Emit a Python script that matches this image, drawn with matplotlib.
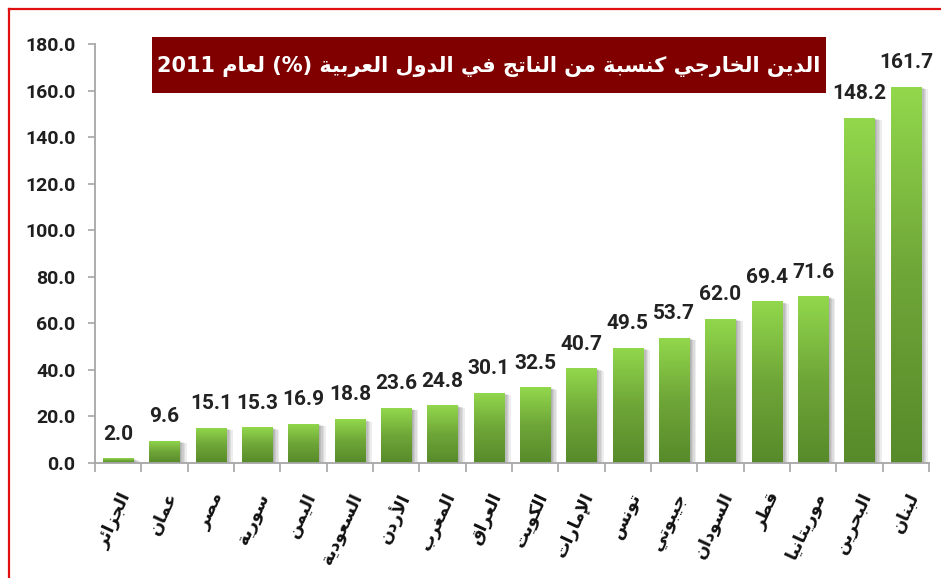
import matplotlib
matplotlib.use('Agg')
import matplotlib.pyplot as plt
import numpy as np
from matplotlib.patches import Rectangle
from matplotlib.lines import Line2D
import matplotlib.patheffects as pe
from matplotlib.colors import LinearSegmentedColormap

# ---------------- data ----------------
categories = ['الجزائر', 'عمان', 'مصر', 'سورية', 'اليمن', 'السعودية', 'الأردن',
              'المغرب', 'العراق', 'الكويت', 'الإمارات', 'تونس', 'جيبوتي',
              'السودان', 'قطر', 'موريتانيا', 'البحرين', 'لبنان']
values = [2.0, 9.6, 15.1, 15.3, 16.9, 18.8, 23.6, 24.8, 30.1, 32.5, 40.7,
          49.5, 53.7, 62.0, 69.4, 71.6, 148.2, 161.7]
y_ticks = [0, 20, 40, 60, 80, 100, 120, 140, 160, 180]
title_text = 'الدين الخارجي كنسبة من الناتج في الدول العربية (%) لعام 2011'

# ---------------- Arabic shaping (presentation forms) + RTL ----------------
_FORM_TABLE = [
    (0x0621, 0xFE80, 1), (0x0622, 0xFE81, 2), (0x0623, 0xFE83, 2), (0x0624, 0xFE85, 2),
    (0x0625, 0xFE87, 2), (0x0626, 0xFE89, 4), (0x0627, 0xFE8D, 2), (0x0628, 0xFE8F, 4),
    (0x0629, 0xFE93, 2), (0x062A, 0xFE95, 4), (0x062B, 0xFE99, 4), (0x062C, 0xFE9D, 4),
    (0x062D, 0xFEA1, 4), (0x062E, 0xFEA5, 4), (0x062F, 0xFEA9, 2), (0x0630, 0xFEAB, 2),
    (0x0631, 0xFEAD, 2), (0x0632, 0xFEAF, 2), (0x0633, 0xFEB1, 4), (0x0634, 0xFEB5, 4),
    (0x0635, 0xFEB9, 4), (0x0636, 0xFEBD, 4), (0x0637, 0xFEC1, 4), (0x0638, 0xFEC5, 4),
    (0x0639, 0xFEC9, 4), (0x063A, 0xFECD, 4), (0x0641, 0xFED1, 4), (0x0642, 0xFED5, 4),
    (0x0643, 0xFED9, 4), (0x0644, 0xFEDD, 4), (0x0645, 0xFEE1, 4), (0x0646, 0xFEE5, 4),
    (0x0647, 0xFEE9, 4), (0x0648, 0xFEED, 2), (0x0649, 0xFEEF, 2), (0x064A, 0xFEF1, 4),
]
FORMS = {chr(c): [chr(s + i) for i in range(n)] for c, s, n in _FORM_TABLE}
LAM = '\u0644'
LAM_ALEF = {'\u0622': (0xFEF5, 0xFEF6), '\u0623': (0xFEF7, 0xFEF8),
            '\u0625': (0xFEF9, 0xFEFA), '\u0627': (0xFEFB, 0xFEFC)}


def shape(word):
    tokens = []
    i = 0
    while i < len(word):
        c = word[i]
        if c == LAM and i + 1 < len(word) and word[i + 1] in LAM_ALEF:
            a, b = LAM_ALEF[word[i + 1]]
            tokens.append(([chr(a), chr(b)], False))
            i += 2
            continue
        if c in FORMS:
            f = FORMS[c]
            tokens.append((f, len(f) == 4))
        else:
            tokens.append((c, None))
        i += 1
    out = []
    for k, (f, dual) in enumerate(tokens):
        if dual is None:
            out.append(f)
            continue
        prev = k > 0 and tokens[k - 1][1] is True
        nxt = dual and k + 1 < len(tokens) and tokens[k + 1][1] is not None
        if prev and nxt:
            idx = 3
        elif prev:
            idx = 1
        elif nxt:
            idx = 2
        else:
            idx = 0
        if len(f) == 1:
            idx = 0
        out.append(f[idx])
    return ''.join(out)


def is_arabic(w):
    return any('\u0600' <= ch <= '\u06FF' for ch in w)


def rtl(text):
    words = text.split(' ')
    vis = [shape(w)[::-1] if is_arabic(w) else w for w in reversed(words)]
    return ' '.join(vis)


# ---------------- figure ----------------
W, H = 941, 578
fig = plt.figure(figsize=(W / 100, H / 100), dpi=100)
fig.patch.set_facecolor('white')

ax_left, ax_right, ax_top, ax_bottom = 95, 929, 44, 463
ax = fig.add_axes([ax_left / W, 1 - ax_bottom / H,
                   (ax_right - ax_left) / W, (ax_bottom - ax_top) / H])

x = np.arange(len(categories))
bw = 0.65
grid_col = '#A6A6A6'

bars = ax.bar(x, values, width=bw, color='#74B03C', zorder=3)

shadow_effects = [pe.SimplePatchShadow(offset=(d, -d * 0.35), shadow_rgbFace='black',
                                       alpha=0.07) for d in (1.0, 2.0, 3.0, 4.0, 5.0)]
cmap = LinearSegmentedColormap.from_list('grn', ['#578A2A', '#6FA638', '#92D84C'])
grad = np.linspace(0, 1, 256).reshape(-1, 1)
for rect, v in zip(bars, values):
    rect.set_path_effects(shadow_effects + [pe.Normal()])
    x0 = rect.get_x()
    im = ax.imshow(grad, extent=[x0, x0 + bw, 0, v], origin='lower', aspect='auto',
                   cmap=cmap, zorder=4, interpolation='bilinear')
    im.set_clip_path(rect)

# data labels
for xi, v in zip(x, values):
    ax.annotate(f'{v:.1f}', xy=(xi, v), xytext=(0, 13.5), textcoords='offset points',
                ha='center', va='baseline', fontsize=15, fontweight='bold',
                color='#222222', family=['Roboto', 'DejaVu Sans'],
                zorder=6)

ax.set_xlim(-0.5, len(categories) - 0.5)
ax.set_ylim(0, 180)
ax.set_yticks(y_ticks)
ax.set_yticklabels([f'{t:.1f}' for t in y_ticks])
for lab in ax.get_yticklabels():
    lab.set_family(['Roboto', 'DejaVu Sans'])
    lab.set_fontweight('bold')
    lab.set_fontsize(14)
    lab.set_color('#1E1E1E')
ax.tick_params(axis='y', direction='out', length=5, width=1.2, color=grid_col, pad=9)

ax.set_xticks(x)
ax.set_xticklabels([rtl(c) for c in categories])
ax.set_xticks(np.arange(-0.5, len(categories)), minor=True)
ax.tick_params(axis='x', which='major', length=0, pad=19)
ax.tick_params(axis='x', which='minor', direction='out', length=6.5, width=1.2, color=grid_col)
for lab in ax.get_xticklabels():
    lab.set_family(['DejaVu Sans'])
    lab.set_fontweight('bold')
    lab.set_fontsize(12.5)
    lab.set_color('#111111')
    lab.set_rotation(65)
    lab.set_ha('right')
    lab.set_va('top')
    lab.set_rotation_mode('anchor')

for s in ('top', 'right'):
    ax.spines[s].set_visible(False)
for s in ('left', 'bottom'):
    ax.spines[s].set_color(grid_col)
    ax.spines[s].set_linewidth(1.3)
    ax.spines[s].set_zorder(5)
ax.set_facecolor('none')

# title box
bx0, bx1, by0, by1 = 152, 826, 37, 93
fig.add_artist(Rectangle((bx0 / W, 1 - by1 / H), (bx1 - bx0) / W, (by1 - by0) / H,
                         transform=fig.transFigure, facecolor='#800000',
                         edgecolor='none', zorder=10))
t = fig.text((bx0 + bx1) / 2 / W, 1 - (by0 + by1) / 2 / H - 0.002, rtl(title_text),
             ha='center', va='center', color='white', fontsize=22, fontweight='bold',
             family=['DejaVu Sans'], zorder=11)
fig.canvas.draw()
wpx = t.get_window_extent(renderer=fig.canvas.get_renderer()).width
t.set_fontsize(22 * 662 / wpx)

# red frame
fig.add_artist(Line2D([8.5 / W, 8.5 / W], [0, 1 - 8.5 / H], transform=fig.transFigure,
                      color='#E01010', linewidth=1.6))
fig.add_artist(Line2D([8.5 / W, 1], [1 - 8.5 / H, 1 - 8.5 / H], transform=fig.transFigure,
                      color='#E01010', linewidth=1.6))

fig.savefig('out.png', dpi=100, facecolor='white')
